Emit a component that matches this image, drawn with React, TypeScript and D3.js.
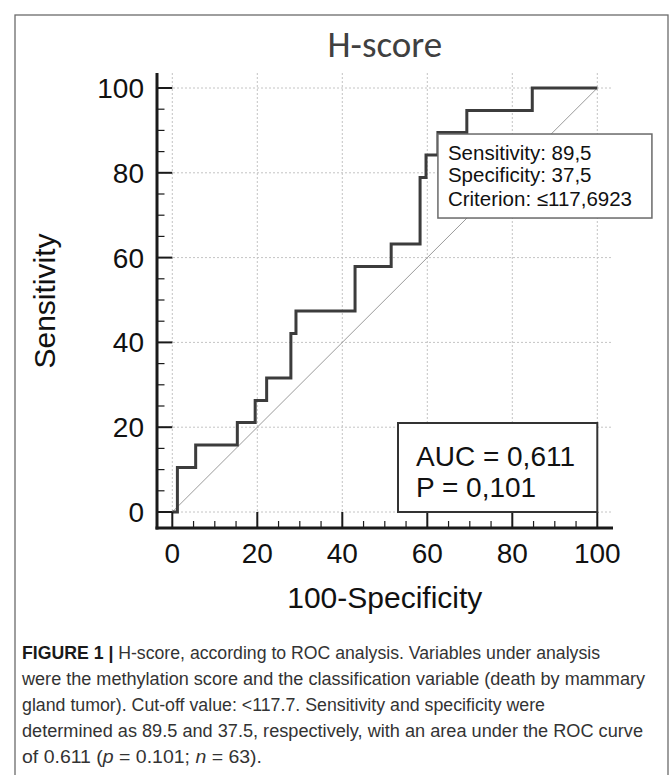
import React from "react";
import * as d3 from "d3";

// ROC operating points (100-Specificity, Sensitivity)
const fpr = [0, 1.2, 5.5, 15.3, 19.5, 22.2, 27.9, 29.1, 43.0, 51.5, 58.3, 59.7, 62.5, 69.3, 84.7, 100];
const tpr = [0, 10.5, 15.8, 21.1, 26.3, 31.6, 42.1, 47.4, 57.9, 63.2, 78.9, 84.2, 89.5, 94.7, 100, 100];

const majorTicks = [0, 20, 40, 60, 80, 100];
const minorTicks = [5, 10, 15, 25, 30, 35, 45, 50, 55, 65, 70, 75, 85, 90, 95];

const title = "H-score";
const xLabel = "100-Specificity";
const yLabel = "Sensitivity";
const criterion = { fpr: 62.5, tpr: 89.5, sens: "89,5", spec: "37,5", crit: "≤117,6923" };
const aucLines = ["AUC = 0,611", "P = 0,101"];

const W = 670;
const H = 775;

export default function App() {
  const x = d3.scaleLinear().domain([0, 100]).range([172.3, 597.3]);
  const y = d3.scaleLinear().domain([0, 100]).range([512, 88]);

  const axisX = 157;
  const axisY = 528;
  const axisTop = 73;
  const axisRight = 613;

  const pts: [number, number][] = fpr.map((f, i) => [f, tpr[i]]);
  const line = d3
    .line<[number, number]>()
    .x((d) => x(d[0]))
    .y((d) => y(d[1]))
    .curve(d3.curveStepAfter);

  const font = "'Liberation Sans', Arial, sans-serif";
  const capFont = "'Liberation Sans', Arial, sans-serif";

  const boxL = x(criterion.fpr);
  const boxT = y(criterion.tpr) + 1.5;

  return (
    <svg
      width={W}
      height={H}
      style={{ position: "absolute", left: 0, top: 0, background: "#fff" }}
    >
      {/* outer frame */}
      <rect x={15} y={15} width={653} height={820} fill="none" stroke="#6b6b6b" strokeWidth={1.3} />

      {/* title */}
      <text
        x={x(50)}
        y={57}
        textAnchor="middle"
        fontFamily="Carlito, Lato, sans-serif"
        fontSize={37}
        fill="#404040"
      >
        {title}
      </text>

      {/* grid */}
      <g stroke="#c4c4c4" strokeWidth={1} strokeDasharray="2,2">
        {majorTicks.map((t) => (
          <line key={"gy" + t} x1={axisX} x2={axisRight} y1={y(t)} y2={y(t)} />
        ))}
        {majorTicks.map((t) => (
          <line key={"gx" + t} x1={x(t)} x2={x(t)} y1={axisTop} y2={axisY} />
        ))}
      </g>

      {/* diagonal reference */}
      <line x1={x(0)} y1={y(0)} x2={x(100)} y2={y(100)} stroke="#9a9a9a" strokeWidth={1} />

      {/* ROC curve */}
      <path d={line(pts) || ""} fill="none" stroke="#3c3c3c" strokeWidth={3} strokeLinejoin="miter" />

      {/* axes */}
      <g stroke="#1a1a1a">
        <line x1={axisX} x2={axisX} y1={axisTop} y2={axisY + 1.5} strokeWidth={3} />
        <line x1={axisX - 1.5} x2={axisRight} y1={axisY} y2={axisY} strokeWidth={3} />
        {majorTicks.map((t) => (
          <line key={"my" + t} x1={axisX} x2={x(0)} y1={y(t)} y2={y(t)} strokeWidth={2} />
        ))}
        {minorTicks.map((t) => (
          <line key={"ny" + t} x1={axisX} x2={axisX + 7.5} y1={y(t)} y2={y(t)} strokeWidth={1.2} />
        ))}
        {majorTicks.map((t) => (
          <line key={"mx" + t} x1={x(t)} x2={x(t)} y1={axisY} y2={y(0)} strokeWidth={2} />
        ))}
        {minorTicks.map((t) => (
          <line key={"nx" + t} x1={x(t)} x2={x(t)} y1={axisY} y2={axisY - 7} strokeWidth={1.2} />
        ))}
      </g>

      {/* tick labels */}
      <g fontFamily={font} fontSize={28} fill="#111">
        {majorTicks.map((t) => (
          <text key={"ly" + t} x={144} y={y(t) + 10} textAnchor="end">
            {t}
          </text>
        ))}
        {majorTicks.map((t) => (
          <text key={"lx" + t} x={x(t)} y={563} textAnchor="middle">
            {t}
          </text>
        ))}
      </g>

      {/* axis labels */}
      <text x={x(50)} y={608} textAnchor="middle" fontFamily={font} fontSize={30} fill="#111">
        {xLabel}
      </text>
      <text
        transform={`translate(55,${y(50) + 1}) rotate(-90)`}
        textAnchor="middle"
        fontFamily={font}
        fontSize={30}
        fill="#111"
      >
        {yLabel}
      </text>

      {/* criterion box */}
      <rect x={boxL} y={boxT} width={214} height={84} fill="#fff" stroke="#6a6a6a" strokeWidth={1.5} />
      <g fontFamily={font} fontSize={20.5} fill="#111">
        <text x={boxL + 10} y={boxT + 25.7}>{"Sensitivity: " + criterion.sens}</text>
        <text x={boxL + 10} y={boxT + 48.4}>{"Specificity: " + criterion.spec}</text>
        <text x={boxL + 10} y={boxT + 72.4}>{"Criterion: " + criterion.crit}</text>
      </g>

      {/* AUC box */}
      <rect
        x={398}
        y={423}
        width={x(100) - 398}
        height={y(0) - 423}
        fill="#fff"
        stroke="#333"
        strokeWidth={2}
      />
      <g fontFamily={font} fontSize={28} fill="#111">
        <text x={416} y={466}>{aucLines[0]}</text>
        <text x={416} y={497}>{aucLines[1]}</text>
      </g>

      {/* caption */}
      <g fontFamily={capFont} fontSize={17.5} fill="#333">
        <text x={22} y={659} textLength={578} lengthAdjust="spacingAndGlyphs">
          <tspan fontWeight="bold" fill="#1a1a1a">FIGURE 1 |</tspan>
          <tspan> H-score, according to ROC analysis. Variables under analysis</tspan>
        </text>
        <text x={22} y={685} textLength={623} lengthAdjust="spacingAndGlyphs">
          were the methylation score and the classification variable (death by mammary
        </text>
        <text x={22} y={711} textLength={523} lengthAdjust="spacingAndGlyphs">
          gland tumor). Cut-off value: &lt;117.7. Sensitivity and specificity were
        </text>
        <text x={22} y={737} textLength={621} lengthAdjust="spacingAndGlyphs">
          determined as 89.5 and 37.5, respectively, with an area under the ROC curve
        </text>
        <text x={22} y={763} textLength={240} lengthAdjust="spacingAndGlyphs">
          <tspan>of 0.611 (</tspan>
          <tspan fontStyle="italic">p</tspan>
          <tspan> = 0.101; </tspan>
          <tspan fontStyle="italic">n</tspan>
          <tspan> = 63).</tspan>
        </text>
      </g>
    </svg>
  );
}
